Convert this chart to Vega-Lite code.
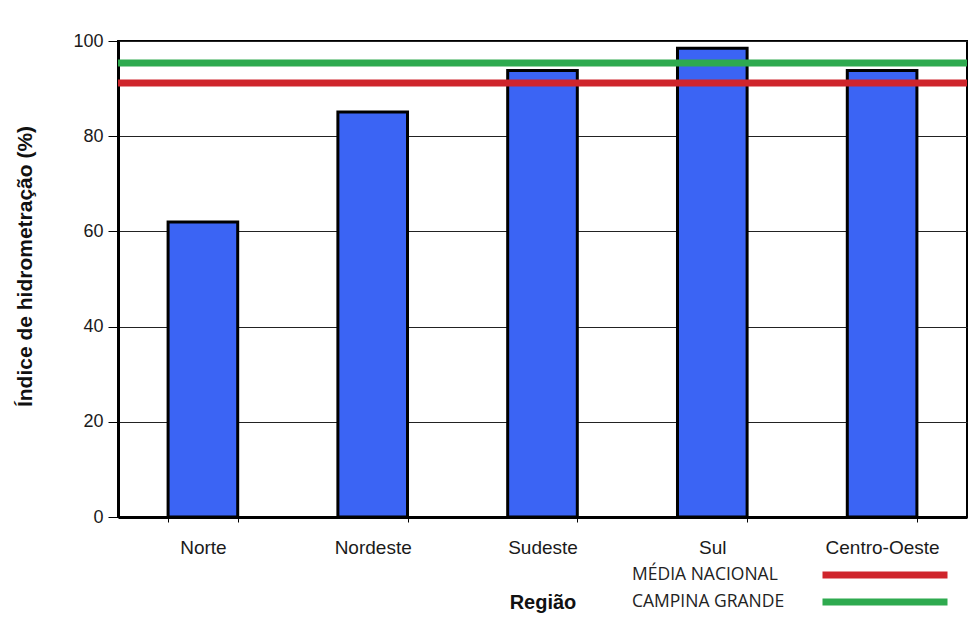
{
  "$schema": "https://vega.github.io/schema/vega-lite/v6.json",
  "autosize": "none",
  "width": 849,
  "height": 476,
  "padding": {"left": 118, "top": 41, "right": 7, "bottom": 100},
  "background": "white",
  "config": {
    "font": "Liberation Sans",
    "view": {"stroke": "black", "strokeWidth": 2},
    "legend": {
      "title": null,
      "orient": "none",
      "legendX": 701,
      "padding": 0,
      "symbolType": "stroke",
      "symbolSize": 15625,
      "symbolStrokeWidth": 7,
      "labelFont": "Open Sans",
      "labelFontSize": 17.5,
      "labelColor": "#222",
      "labelAlign": "left",
      "labelOffset": -319,
      "labelLimit": 300
    }
  },
  "datasets": {
    "regioes": [
      {"regiao": "Norte", "indice": 62.0},
      {"regiao": "Nordeste", "indice": 85.1},
      {"regiao": "Sudeste", "indice": 93.8},
      {"regiao": "Sul", "indice": 98.5},
      {"regiao": "Centro-Oeste", "indice": 93.8}
    ],
    "media": [
      {"serie": "MÉDIA NACIONAL", "indice": 91.2}
    ],
    "campina": [
      {"serie": "CAMPINA GRANDE", "indice": 95.4}
    ]
  },
  "layer": [
    {
      "data": {"name": "regioes"},
      "mark": {"type": "bar", "color": "#3b64f4", "stroke": "black", "strokeWidth": 3},
      "encoding": {
        "x": {
          "field": "regiao",
          "type": "nominal",
          "sort": null,
          "scale": {"paddingInner": 0.59, "paddingOuter": 0.295},
          "axis": {
            "title": "Região",
            "titleFontSize": 20,
            "titleFontWeight": "bold",
            "titleColor": "#111",
            "titleBaseline": "middle",
            "titleY": 85,
            "labelAngle": 0,
            "labelFontSize": 19,
            "labelColor": "#1a1a1a",
            "labelPadding": 16,
            "tickBand": "extent",
            "tickSize": 5,
            "tickColor": "black",
            "domainColor": "black",
            "domainWidth": 3
          }
        },
        "y": {
          "field": "indice",
          "type": "quantitative",
          "scale": {"domain": [0, 100], "nice": false},
          "axis": {
            "title": "Índice de hidrometração (%)",
            "titleFontSize": 21,
            "titleFontWeight": "bold",
            "titleColor": "#111",
            "titleX": -93,
            "titleY": 225,
            "titleBaseline": "middle",
            "values": [0, 20, 40, 60, 80, 100],
            "labelFontSize": 18,
            "labelColor": "#1a1a1a",
            "labelPadding": 5,
            "tickSize": 10,
            "tickColor": "black",
            "domainColor": "black",
            "domainWidth": 3,
            "grid": true,
            "gridColor": "#222",
            "gridWidth": 1
          }
        }
      }
    },
    {
      "data": {"name": "media"},
      "mark": {"type": "rule", "strokeWidth": 7},
      "encoding": {
        "y": {"field": "indice", "type": "quantitative"},
        "color": {
          "field": "serie",
          "type": "nominal",
          "scale": {"domain": ["MÉDIA NACIONAL"], "range": ["#cf252c"]},
          "legend": {"legendY": 468}
        }
      }
    },
    {
      "data": {"name": "campina"},
      "mark": {"type": "rule", "strokeWidth": 7},
      "encoding": {
        "y": {"field": "indice", "type": "quantitative"},
        "stroke": {
          "field": "serie",
          "type": "nominal",
          "scale": {"domain": ["CAMPINA GRANDE"], "range": ["#2eaa4f"]},
          "legend": {"legendY": 495}
        }
      }
    }
  ]
}
